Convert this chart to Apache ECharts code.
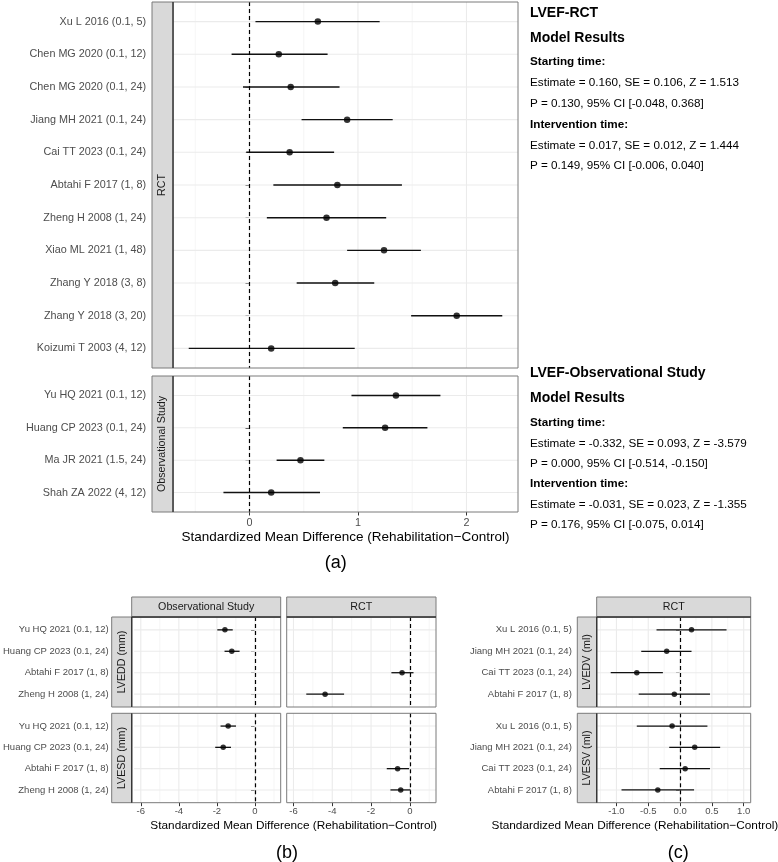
<!DOCTYPE html>
<html><head><meta charset="utf-8">
<script src="https://cdn.jsdelivr.net/npm/echarts@6/dist/echarts.min.js"></script>
<style>html,body{margin:0;padding:0;background:#fff}#c{width:778px;height:862px}</style>
</head><body><div id="c"></div>
<script>
const FONT = '"Liberation Sans", Arial, Helvetica, sans-serif';

// ---------- (a) LVEF ----------
const aRctStudies = ['Xu L 2016 (0.1, 5)','Chen MG 2020 (0.1, 12)','Chen MG 2020 (0.1, 24)','Jiang MH 2021 (0.1, 24)','Cai TT 2023 (0.1, 24)','Abtahi F 2017 (1, 8)','Zheng H 2008 (1, 24)','Xiao ML 2021 (1, 48)','Zhang Y 2018 (3, 8)','Zhang Y 2018 (3, 20)','Koizumi T 2003 (4, 12)'];
const aRctEst  = [0.63, 0.27, 0.38, 0.90, 0.37, 0.81, 0.71, 1.24, 0.79, 1.91, 0.20];
const aRctLow  = [0.055, -0.165, -0.06, 0.48, -0.03, 0.22, 0.16, 0.90, 0.435, 1.49, -0.56];
const aRctHigh = [1.20, 0.72, 0.83, 1.32, 0.78, 1.405, 1.26, 1.58, 1.15, 2.33, 0.97];
const aObsStudies = ['Yu HQ 2021 (0.1, 12)','Huang CP 2023 (0.1, 24)','Ma JR 2021 (1.5, 24)','Shah ZA 2022 (4, 12)'];
const aObsEst  = [1.35, 1.25, 0.47, 0.20];
const aObsLow  = [0.94, 0.86, 0.25, -0.24];
const aObsHigh = [1.76, 1.64, 0.69, 0.65];
const aMajorTicks = [0, 1, 2];
const aMinorTicks = [-0.5, 0.5, 1.5];
const aRange = [-0.705, 2.475];

// ---------- (b) LVEDD / LVESD ----------
const bStudies = ['Yu HQ 2021 (0.1, 12)','Huang CP 2023 (0.1, 24)','Abtahi F 2017 (1, 8)','Zheng H 2008 (1, 24)'];
const bDesign  = ['Observational Study','Observational Study','RCT','RCT'];
const bEddEst  = [-1.58, -1.22, -0.40, -4.37];
const bEddLow  = [-1.98, -1.60, -0.95, -5.34];
const bEddHigh = [-1.17, -0.81, 0.19, -3.39];
const bEsdEst  = [-1.41, -1.67, -0.63, -0.47];
const bEsdLow  = [-1.81, -2.09, -1.19, -1.00];
const bEsdHigh = [-1.00, -1.26, -0.04, 0.04];
const bMajorTicks = [-6, -4, -2, 0];
const bMinorTicks = [-5, -3, -1, 1];
const bRange = [-6.35, 1.35];

// ---------- (c) LVEDV / LVESV ----------
const cStudies = ['Xu L 2016 (0.1, 5)','Jiang MH 2021 (0.1, 24)','Cai TT 2023 (0.1, 24)','Abtahi F 2017 (1, 8)'];
const cEdvEst  = [0.18, -0.21, -0.68, -0.09];
const cEdvLow  = [-0.37, -0.61, -1.09, -0.65];
const cEdvHigh = [0.73, 0.18, -0.27, 0.47];
const cEsvEst  = [-0.125, 0.23, 0.08, -0.35];
const cEsvLow  = [-0.68, -0.17, -0.32, -0.92];
const cEsvHigh = [0.43, 0.63, 0.47, 0.22];
const cMajorTicks = [-1, -0.5, 0, 0.5, 1];
const cMinorTicks = [-1.25, -0.75, -0.25, 0.25, 0.75];
const cRange = [-1.31, 1.11];

const refLine = 0; // no-effect reference line

const chart = echarts.init(document.getElementById('c'), null, {renderer: 'canvas', width: 778, height: 862});
const grids = [], xAxes = [], yAxes = [], series = [], graphics = [];

function addPanel(p) {
  const gi = grids.length;
  const n = p.cats.length;
  // ggplot discrete expansion: 0.6 band at each end (ECharts gives 0.5)
  const pad = p.height / (n + 0.2) * 0.1;
  grids.push({left: p.left, top: p.top + pad, width: p.width, height: p.height - 2 * pad, show: false});
  graphics.push({type: 'rect', z: 5, shape: {x: p.left, y: p.top, width: p.width, height: p.height},
    style: {fill: 'none', stroke: '#7a7a7a', lineWidth: 1}});
  const fmt = v => {
    const hit = p.majors.some(m => Math.abs(m - v) < 1e-9);
    if (!hit) return '';
    return p.decimals ? v.toFixed(p.decimals) : String(Math.round(v));
  };
  xAxes.push({gridIndex: gi, type: 'value', min: p.range[0], max: p.range[1], offset: pad,
    axisLine: {show: false}, splitLine: {show: false},
    axisTick: {show: p.showX, customValues: p.majors, length: 3.5, lineStyle: {color: '#333', width: 1}},
    axisLabel: {show: p.showX, customValues: p.majors, formatter: fmt, color: '#4d4d4d',
      fontSize: p.xFont, fontFamily: FONT, margin: p.xMargin}});
  yAxes.push({gridIndex: gi, type: 'category', data: p.cats, inverse: true, offset: p.offset,
    boundaryGap: true, axisLine: {show: false}, splitLine: {show: false},
    axisTick: {show: p.showY, alignWithLabel: true, length: 4, lineStyle: {color: '#333'}},
    axisLabel: {show: p.showY, color: '#4d4d4d', fontSize: p.yFont, fontFamily: FONT, margin: p.yMargin}});
  // vertical grid lines
  const vg = p.majors.map(v => [v, 1]).concat(p.minors.map(v => [v, 0]));
  series.push({type: 'custom', xAxisIndex: gi, yAxisIndex: gi, silent: true, z: 1, clip: false, data: vg,
    renderItem(params, api) {
      const cs = params.coordSys;
      const x = api.coord([api.value(0), 0])[0];
      const major = api.value(1) === 1;
      return {type: 'line', shape: {x1: x, y1: cs.y - pad, x2: x, y2: cs.y + cs.height + pad},
        style: {stroke: major ? '#ebebeb' : '#f3f3f3', lineWidth: major ? 1.1 : 0.8}};
    }});
  // horizontal grid lines at categories
  series.push({type: 'custom', xAxisIndex: gi, yAxisIndex: gi, silent: true, z: 1, clip: false,
    data: p.cats.map((c, i) => [0, i]),
    renderItem(params, api) {
      const cs = params.coordSys;
      const y = api.coord([0, api.value(1)])[1];
      return {type: 'line', shape: {x1: cs.x, y1: y, x2: cs.x + cs.width, y2: y},
        style: {stroke: '#ebebeb', lineWidth: 1.1}};
    }});
  // error bars
  series.push({type: 'custom', xAxisIndex: gi, yAxisIndex: gi, silent: true, z: 3, clip: false,
    data: p.idx.map(i => [p.low[i], p.high[i], i]), encode: {x: [0, 1], y: 2},
    renderItem(params, api) {
      const a = api.coord([api.value(0), api.value(2)]);
      const b = api.coord([api.value(1), api.value(2)]);
      return {type: 'line', shape: {x1: a[0], y1: a[1], x2: b[0], y2: b[1]},
        style: {stroke: '#111', lineWidth: p.lw}};
    }});
  // dashed zero line (built from short dash segments)
  series.push({type: 'custom', xAxisIndex: gi, yAxisIndex: gi, silent: true, z: 4, clip: false,
    data: [[refLine, 0]],
    renderItem(params, api) {
      const cs = params.coordSys;
      const x = Math.round(api.coord([api.value(0), 0])[0]) + 0.5;
      const y0 = cs.y - pad, y1 = cs.y + cs.height + pad;
      const children = [];
      for (let y = y0; y < y1; y += 7) {
        children.push({type: 'line', shape: {x1: x, y1: y, x2: x, y2: Math.min(y + 4, y1)},
          style: {stroke: '#000', lineWidth: 1.2}});
      }
      return {type: 'group', children: children};
    }});
  // points
  series.push({type: 'scatter', xAxisIndex: gi, yAxisIndex: gi, z: 5, symbolSize: p.sym,
    itemStyle: {color: '#000'}, data: p.idx.map(i => [p.est[i], i])});
}

function strip(x, y, w, h, text, vertical) {
  graphics.push({type: 'rect', z: 10, shape: {x: x, y: y, width: w, height: h},
    style: {fill: '#d9d9d9', stroke: '#7a7a7a', lineWidth: 1}});
  graphics.push({type: 'text', z: 11, x: x + w / 2, y: y + h / 2, rotation: vertical ? Math.PI / 2 : 0,
    style: {text: text, fill: '#1a1a1a', fontSize: 10.7, fontFamily: FONT, align: 'center', verticalAlign: 'middle'}});
  if (vertical) {
    graphics.push({type: 'line', z: 12, shape: {x1: x + w, y1: y, x2: x + w, y2: y + h}, style: {stroke: '#333', lineWidth: 1.3}});
  } else {
    graphics.push({type: 'line', z: 12, shape: {x1: x, y1: y + h, x2: x + w, y2: y + h}, style: {stroke: '#333', lineWidth: 1.3}});
  }
}
function txt(x, y, text, size, opts) {
  opts = opts || {};
  graphics.push({type: 'text', z: 11, x: x, y: y,
    style: {text: text, fill: '#000', fontSize: size, fontFamily: FONT, fontWeight: opts.bold ? 'bold' : 'normal',
      align: opts.align || 'left', verticalAlign: 'middle'}});
}

const idxAll = n => Array.from({length: n}, (_, i) => i);

// (a)
const aCommon = {range: aRange, majors: aMajorTicks, minors: aMinorTicks, offset: 21, yFont: 10.8, xFont: 10.8,
  xMargin: 6, yMargin: 6, sym: 6.5, lw: 1.4, showY: true};
addPanel(Object.assign({}, aCommon, {left: 173, top: 2, width: 345, height: 366,
  cats: aRctStudies, idx: idxAll(aRctStudies.length), est: aRctEst, low: aRctLow, high: aRctHigh, showX: false}));
addPanel(Object.assign({}, aCommon, {left: 173, top: 376, width: 345, height: 136,
  cats: aObsStudies, idx: idxAll(aObsStudies.length), est: aObsEst, low: aObsLow, high: aObsHigh, showX: true}));
strip(152, 2, 21, 366, 'RCT', true);
strip(152, 376, 21, 136, 'Observational Study', true);
txt(345.5, 537.7, 'Standardized Mean Difference (Rehabilitation\u2212Control)', 13.5, {align: 'center'});
txt(335.7, 562.7, '(a)', 18, {align: 'center'});

// (b)
const obsIdx = idxAll(bStudies.length).filter(i => bDesign[i] === 'Observational Study');
const rctIdx = idxAll(bStudies.length).filter(i => bDesign[i] === 'RCT');
const bCommon = {range: bRange, majors: bMajorTicks, minors: bMinorTicks, cats: bStudies,
  offset: 20, yFont: 9.5, xFont: 9.5, xMargin: 4, yMargin: 5.5, sym: 5.5, lw: 1.3};
addPanel(Object.assign({}, bCommon, {left: 131.7, top: 617, width: 149, height: 90, idx: obsIdx,
  est: bEddEst, low: bEddLow, high: bEddHigh, showX: false, showY: true}));
addPanel(Object.assign({}, bCommon, {left: 286.7, top: 617, width: 149.3, height: 90, idx: rctIdx,
  est: bEddEst, low: bEddLow, high: bEddHigh, showX: false, showY: false}));
addPanel(Object.assign({}, bCommon, {left: 131.7, top: 713.3, width: 149, height: 89.4, idx: obsIdx,
  est: bEsdEst, low: bEsdLow, high: bEsdHigh, showX: true, showY: true}));
addPanel(Object.assign({}, bCommon, {left: 286.7, top: 713.3, width: 149.3, height: 89.4, idx: rctIdx,
  est: bEsdEst, low: bEsdLow, high: bEsdHigh, showX: true, showY: false}));
strip(131.7, 597, 149, 20, 'Observational Study', false);
strip(286.7, 597, 149.3, 20, 'RCT', false);
strip(111.7, 617, 20, 90, 'LVEDD (mm)', true);
strip(111.7, 713.3, 20, 89.4, 'LVESD (mm)', true);
txt(293.7, 826, 'Standardized Mean Difference (Rehabilitation\u2212Control)', 11.8, {align: 'center'});
txt(287, 853, '(b)', 18, {align: 'center'});

// (c)
const cCommon = {range: cRange, majors: cMajorTicks, minors: cMinorTicks, cats: cStudies, decimals: 1,
  offset: 19.4, yFont: 9.5, xFont: 9.5, xMargin: 4, yMargin: 5.5, sym: 5.5, lw: 1.3, idx: idxAll(cStudies.length), showY: true};
addPanel(Object.assign({}, cCommon, {left: 596.7, top: 617, width: 154, height: 90,
  est: cEdvEst, low: cEdvLow, high: cEdvHigh, showX: false}));
addPanel(Object.assign({}, cCommon, {left: 596.7, top: 713.3, width: 154, height: 89.4,
  est: cEsvEst, low: cEsvLow, high: cEsvHigh, showX: true}));
strip(596.7, 597, 154, 20, 'RCT', false);
strip(577.3, 617, 19.4, 90, 'LVEDV (ml)', true);
strip(577.3, 713.3, 19.4, 89.4, 'LVESV (ml)', true);
txt(634.9, 826, 'Standardized Mean Difference (Rehabilitation\u2212Control)', 11.8, {align: 'center'});
txt(678.3, 853, '(c)', 18, {align: 'center'});

// Model results text
const X0 = 530;
txt(X0, 13.3, 'LVEF-RCT', 14, {bold: true});
txt(X0, 38.3, 'Model Results', 14, {bold: true});
txt(X0, 62, 'Starting time:', 11.7, {bold: true});
txt(X0, 82.7, 'Estimate = 0.160, SE = 0.106, Z = 1.513', 11.7);
txt(X0, 103.3, 'P = 0.130, 95% CI [-0.048, 0.368]', 11.7);
txt(X0, 124.3, 'Intervention time:', 11.7, {bold: true});
txt(X0, 145.3, 'Estimate = 0.017, SE = 0.012, Z = 1.444', 11.7);
txt(X0, 166, 'P = 0.149, 95% CI [-0.006, 0.040]', 11.7);
txt(X0, 373.3, 'LVEF-Observational Study', 14, {bold: true});
txt(X0, 398.3, 'Model Results', 14, {bold: true});
txt(X0, 422.7, 'Starting time:', 11.7, {bold: true});
txt(X0, 443.3, 'Estimate = -0.332, SE = 0.093, Z = -3.579', 11.7);
txt(X0, 463.3, 'P = 0.000, 95% CI [-0.514, -0.150]', 11.7);
txt(X0, 484, 'Intervention time:', 11.7, {bold: true});
txt(X0, 504.3, 'Estimate = -0.031, SE = 0.023, Z = -1.355', 11.7);
txt(X0, 525, 'P = 0.176, 95% CI [-0.075, 0.014]', 11.7);

chart.setOption({
  animation: false,
  backgroundColor: '#fff',
  textStyle: {fontFamily: FONT},
  grid: grids, xAxis: xAxes, yAxis: yAxes, series: series,
  graphic: {elements: graphics}
});
</script></body></html>
